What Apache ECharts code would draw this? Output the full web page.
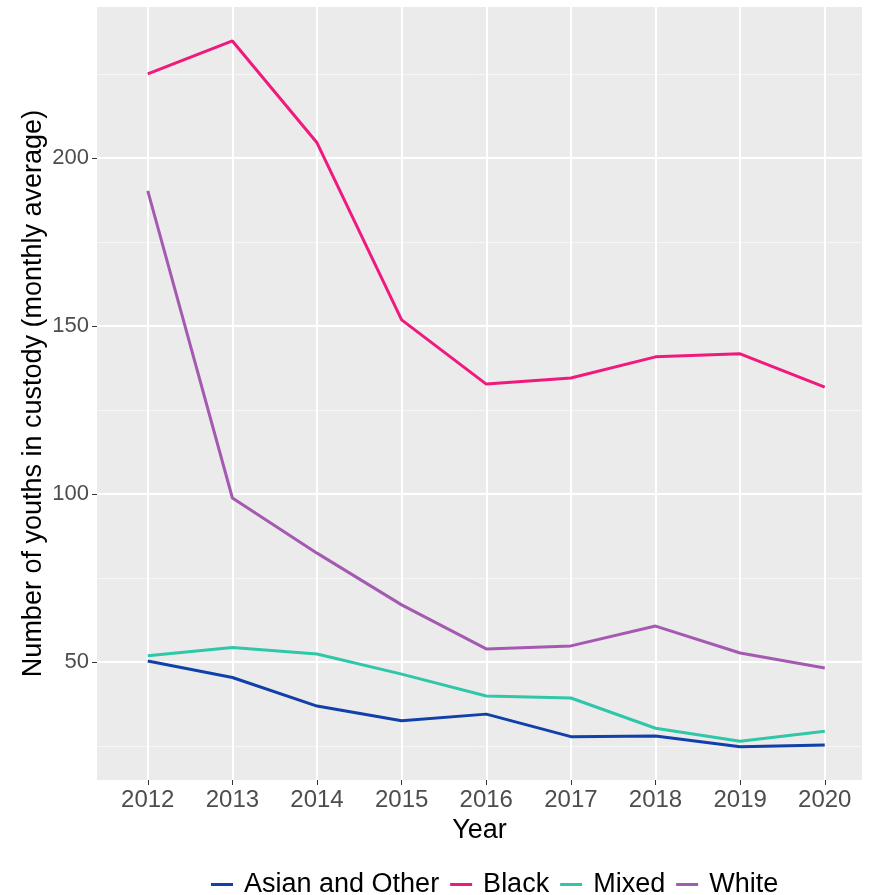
<!DOCTYPE html>
<html>
<head>
<meta charset="utf-8">
<script src="https://cdn.jsdelivr.net/npm/echarts@6/dist/echarts.min.js"></script>
<style>html,body{margin:0;padding:0;background:#fff}#c{width:878px;height:895px}</style>
</head>
<body>
<div id="c"></div>
<script>
const years = [2012, 2013, 2014, 2015, 2016, 2017, 2018, 2019, 2020];
const asianOther = [50.3, 45.4, 36.9, 32.5, 34.5, 27.8, 28.0, 24.8, 25.3];
const black = [225.0, 234.8, 204.5, 151.8, 132.7, 134.5, 140.8, 141.7, 131.8];
const mixed = [51.9, 54.3, 52.4, 46.4, 39.9, 39.3, 30.3, 26.4, 29.4];
const white = [190.2, 98.8, 82.4, 67.0, 53.9, 54.8, 60.7, 52.7, 48.2];
const yMajor = [50, 100, 150, 200];
const yMinor = [25, 75, 125, 175, 225];

const pair = arr => years.map((y, i) => [y, arr[i]]);
const xMin = 2011.4, xMax = 2020.44, yMin = 14.9, yMax = 244.9;

const chart = echarts.init(document.getElementById('c'), null, {renderer: 'canvas'});
const mk = (name, data, color) => ({
  name, type: 'line', data: pair(data), showSymbol: false, symbol: 'none',
  lineStyle: {color, width: 3}, itemStyle: {color}, z: 3, animation: false
});
chart.setOption({
  animation: false,
  backgroundColor: '#ffffff',
  textStyle: {fontFamily: 'Liberation Sans, Arial, sans-serif'},
  grid: {left: 97, right: 16, top: 7, bottom: 115, show: true, backgroundColor: '#EBEBEB', borderWidth: 0},
  xAxis: {
    type: 'value', min: xMin, max: xMax,
    name: 'Year', nameLocation: 'middle', nameGap: 35,
    nameTextStyle: {color: '#000', fontSize: 27},
    axisLine: {show: false},
    axisTick: {show: true, length: 5, lineStyle: {color: '#333', width: 1}, customValues: years},
    axisLabel: {color: '#4D4D4D', fontSize: 24, margin: 8, customValues: years, formatter: v => String(v)},
    splitLine: {show: true, lineStyle: {color: '#ffffff', width: 2}}
  },
  yAxis: [{
    type: 'value', min: yMin, max: yMax,
    name: 'Number of youths in custody (monthly average)', nameLocation: 'middle', nameGap: 50,
    nameMoveOverlap: false,
    nameTextStyle: {color: '#000', fontSize: 27},
    axisLine: {show: false},
    axisTick: {show: true, length: 5, lineStyle: {color: '#333', width: 1}, customValues: yMajor},
    axisLabel: {color: '#4D4D4D', fontSize: 22, margin: 8, customValues: yMajor},
    splitLine: {show: true, lineStyle: {color: '#ffffff', width: 2}}
  }, {
    type: 'value', min: yMin, max: yMax, position: 'left',
    axisLine: {show: false}, axisLabel: {show: false},
    axisTick: {show: false, customValues: yMinor},
    splitLine: {show: true, lineStyle: {color: '#F7F7F7', width: 1}}
  }],
  legend: {
    top: 866, left: 206,
    icon: 'rect', itemWidth: 22, itemHeight: 3, itemGap: 11,
    textStyle: {color: '#000', fontSize: 27, padding: [0, 0, 0, 6]},
    data: ['Asian and Other', 'Black', 'Mixed', 'White']
  },
  series: [
    mk('Asian and Other', asianOther, '#1040A8'),
    mk('Black', black, '#F0197D'),
    mk('Mixed', mixed, '#30C6A8'),
    mk('White', white, '#A55AB2')
  ]
});
</script>
</body>
</html>
